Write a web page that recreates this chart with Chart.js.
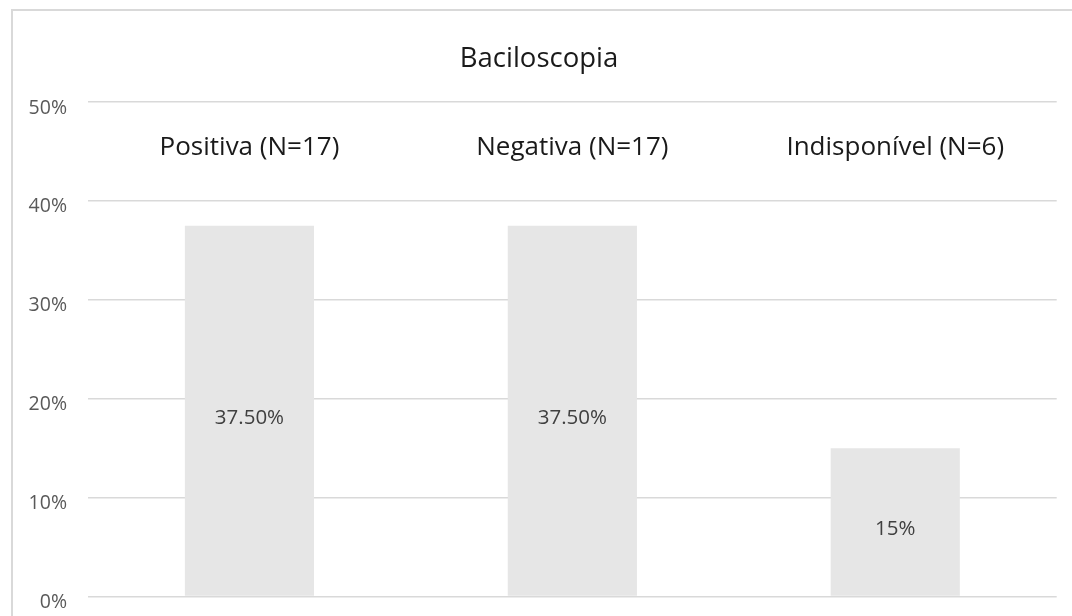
<!DOCTYPE html>
<html>
<head>
<meta charset="utf-8">
<script src="https://cdn.jsdelivr.net/npm/chart.js@4/dist/chart.umd.min.js"></script>
<style>
  html, body { margin: 0; padding: 0; background: #ffffff; overflow: hidden; }
  #wrap { position: absolute; left: 0; top: 0; width: 1072px; height: 616px; }
</style>
</head>
<body>
<div id="wrap"><canvas id="c"></canvas></div>
<script>
const chartTitle = 'Baciloscopia';
const categories = ['Positiva (N=17)', 'Negativa (N=17)', 'Indisponível (N=6)'];
const values = [37.5, 37.5, 15];
const valueLabels = ['37.50%', '37.50%', '15%'];
const yTicks = [0, 10, 20, 30, 40, 50];
const categoryLabelLevel = 45;

const FONT = '"Open Sans", sans-serif';

const frame = {
  id: 'frame',
  beforeDraw(chart) {
    const ctx = chart.ctx;
    ctx.save();
    ctx.fillStyle = '#ffffff';
    ctx.fillRect(0, 0, chart.width, chart.height);
    ctx.strokeStyle = '#d9d9d9';
    ctx.lineWidth = 2;
    ctx.beginPath();
    ctx.moveTo(12, chart.height + 5);
    ctx.lineTo(12, 10);
    ctx.lineTo(chart.width + 5, 10);
    ctx.stroke();
    ctx.restore();
  }
};

const overlay = {
  id: 'overlay',
  afterDatasetsDraw(chart) {
    const ctx = chart.ctx;
    const xs = chart.scales.x, ys = chart.scales.y;
    ctx.save();
    // title
    ctx.fillStyle = '#1a1a1a';
    ctx.font = '27.5px ' + FONT;
    ctx.textAlign = 'center';
    ctx.textBaseline = 'alphabetic';
    ctx.fillText(chartTitle, chart.width / 2 + 3, 67);
    // category labels
    ctx.font = '26px ' + FONT;
    categories.forEach((c, i) => {
      ctx.fillText(c, xs.getPixelForValue(i), ys.getPixelForValue(categoryLabelLevel) + 4);
    });
    // value labels
    ctx.fillStyle = '#404040';
    ctx.font = '20.5px ' + FONT;
    const meta = chart.getDatasetMeta(0);
    meta.data.forEach((bar, i) => {
      const mid = (bar.y + bar.base) / 2;
      ctx.fillText(valueLabels[i], bar.x, mid + 13.5);
    });
    ctx.restore();
  }
};

new Chart(document.getElementById('c'), {
  type: 'bar',
  data: {
    labels: categories,
    datasets: [{
      data: values,
      backgroundColor: '#e6e6e6',
      borderWidth: 0,
      categoryPercentage: 1,
      barPercentage: 0.4
    }]
  },
  options: {
    responsive: true,
    maintainAspectRatio: false,
    animation: false,
    layout: { padding: { left: 0, top: 102, right: 15.3, bottom: 19.5 } },
    plugins: { legend: { display: false }, tooltip: { enabled: false }, title: { display: false } },
    scales: {
      x: { display: false },
      y: {
        min: 0, max: 50,
        afterBuildTicks(scale) { scale.ticks = yTicks.map(v => ({ value: v })); },
        afterFit(scale) { scale.width = 88; scale.paddingTop = 0; scale.paddingBottom = 0; },
        border: { display: false },
        grid: { color: '#d9d9d9', lineWidth: 1.5, drawTicks: false },
        ticks: {
          color: '#595959',
          font: { family: FONT, size: 19.5 },
          padding: 21,
          labelOffset: 6,
          callback: v => v + '%'
        }
      }
    }
  },
  plugins: [frame, overlay]
});
</script>
</body>
</html>
